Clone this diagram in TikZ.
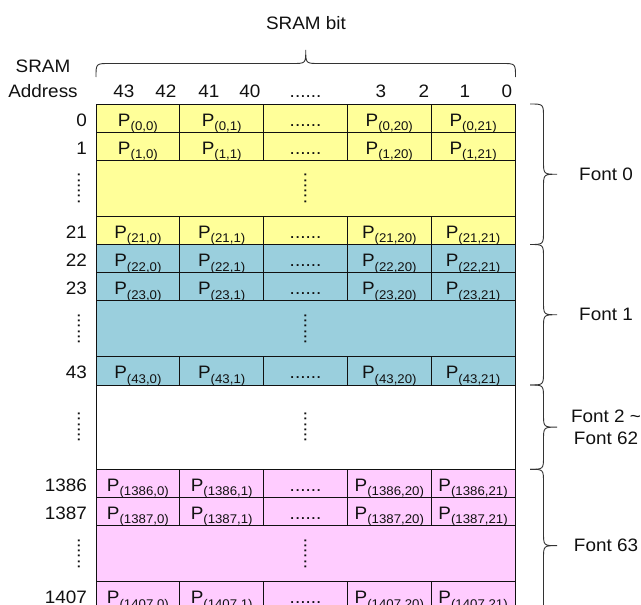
\documentclass[tikz,border=0pt]{standalone}
\usepackage{fontspec}
\setmainfont{Liberation Sans}[FakeStretch=1.05]
\usetikzlibrary{calc}
\definecolor{yel}{HTML}{FFFF99}
\definecolor{blu}{HTML}{9ACFDD}
\definecolor{pnk}{HTML}{FFCCFF}
\definecolor{ink}{HTML}{111111}
\definecolor{bracecol}{HTML}{333333}
\newcommand\Pcell[1]{P\raisebox{-4.5pt}{\fontsize{12.6}{12.6}\selectfont(#1)}}
\newcommand\memrow[3]{%
  \pgfmathsetmacro\yc{104+28.1*(#1+0.5)}%
  \pgfmathsetmacro\yb{104+28.1*#1+22}%
  \node[cellbox, fill=#2] (r#3c0) at (137.9,\yc) {\Pcell{#3,0}};
  \node[cellbox, fill=#2] (r#3c1) at (221.7,\yc) {\Pcell{#3,1}};
  \node[cellbox, fill=#2] (r#3c2) at (305.5,\yc) {......};
  \node[cellbox, fill=#2] (r#3c3) at (389.3,\yc) {\Pcell{#3,20}};
  \node[cellbox, fill=#2] (r#3c4) at (473.1,\yc) {\Pcell{#3,21}};
  \node[lbl, anchor=base east] (a#3) at (87,\yb) {#3};
}
\newcommand\dotblock[4]{%
  \pgfmathsetmacro\yc{104+28.1*(#1+#2/2)}%
  \pgfmathsetmacro\hh{28.1*#2}%
  \node[blockbox, fill=#3, minimum height=\hh] (#4) at (305.5,\yc) {};
  \node[vdotsnode] (#4m) at (305.5,\yc) {......};
  \node[vdotsnode] (#4l) at (79,\yc) {......};
}
\begin{document}
\begin{tikzpicture}[x=1pt,y=-1pt,
  every node/.style={font=\fontsize{18}{22}\selectfont, inner sep=0pt, text=ink},
  lbl/.style={},
  cellbox/.style={draw=ink, line width=0.9pt, minimum width=83.8, minimum height=28.1,
    text height=20pt, text depth=4pt},
  blockbox/.style={draw=ink, line width=0.9pt, minimum width=419},
  vdotsnode/.style={rotate=90},
  brc/.style={draw=bracecol, line width=0.9pt},
  rbrace/.style={to path={let \p1=(\tikztostart), \p2=(\tikztotarget),
      \p3=($(\tikztostart)!0.5!(\tikztotarget)$) in
    .. controls (\x1+13.5pt,\y1) .. (\x1+13.5pt,\y1-13.5pt)
    -- (\x1+13.5pt,\y3+13.5pt) .. controls (\x1+13.5pt,\y3) .. (\x1+27pt,\y3)
    .. controls (\x1+13.5pt,\y3) .. (\x1+13.5pt,\y3-13.5pt)
    -- (\x1+13.5pt,\y2+13.5pt) .. controls (\x1+13.5pt,\y2) .. (\tikztotarget)}},
  tbrace/.style={to path={let \p1=(\tikztostart), \p2=(\tikztotarget),
      \p3=($(\tikztostart)!0.5!(\tikztotarget)$) in
    .. controls (\x1,\y1+13.5pt) .. (\x1+13.5pt,\y1+13.5pt)
    -- (\x3-13.5pt,\y1+13.5pt) .. controls (\x3,\y1+13.5pt) .. (\x3,\y1+27pt)
    .. controls (\x3,\y1+13.5pt) .. (\x3+13.5pt,\y1+13.5pt)
    -- (\x2-13.5pt,\y1+13.5pt) .. controls (\x2,\y1+13.5pt) .. (\tikztotarget)}}
]
\useasboundingbox (0,0) rectangle (641,605);
\clip (0,0) rectangle (641,605);
\fill[white] (0,0) rectangle (641,605);

% headings
\node[lbl, anchor=base] (title) at (306,29) {SRAM bit};
\node[lbl, anchor=base] (sram) at (43,72) {SRAM};
\node[lbl, anchor=base] (addrh) at (43,97) {Address};
\node[lbl, anchor=base] (b43) at (124,97) {43};
\node[lbl, anchor=base] (b42) at (166,97) {42};
\node[lbl, anchor=base] (b41) at (209,97) {41};
\node[lbl, anchor=base] (b40) at (250,97) {40};
\node[lbl, anchor=base] (bdots) at (305.5,97) {......};
\node[lbl, anchor=base] (b3) at (381,97) {3};
\node[lbl, anchor=base] (b2) at (424,97) {2};
\node[lbl, anchor=base] (b1) at (465,97) {1};
\node[lbl, anchor=base] (b0) at (507,97) {0};

% memory rows
\memrow{0}{yel}{0}
\memrow{1}{yel}{1}
\dotblock{2}{2}{yel}{dA}
\memrow{4}{yel}{21}
\memrow{5}{blu}{22}
\memrow{6}{blu}{23}
\dotblock{7}{2}{blu}{dB}
\memrow{9}{blu}{43}
\dotblock{10}{3}{white}{dC}
\memrow{13}{pnk}{1386}
\memrow{14}{pnk}{1387}
\dotblock{15}{2}{pnk}{dD}
\memrow{17}{pnk}{1407}

% braces
\coordinate (tb1) at (96,77);
\coordinate (tb2) at (515.5,77);
\coordinate (f0a) at (530,104);
\coordinate (f0b) at (530,244.5);
\coordinate (f1b) at (530,385);
\coordinate (f2b) at (530,469.3);
\coordinate (f3b) at (530,622);
\draw[brc] (tb1) to[tbrace] (tb2);
\draw[brc] (f0a) to[rbrace] (f0b);
\draw[brc] (f0b) to[rbrace] (f1b);
\draw[brc] (f1b) to[rbrace] (f2b);
\draw[brc] (f2b) to[rbrace] (f3b);

% font labels
\node[lbl] (font0) at (606,174.5) {Font 0};
\node[lbl] (font1) at (606,314.5) {Font 1};
\node[lbl, align=center] (font2) at (606,427) {Font 2 \symbol{"7E}\\Font 62};
\node[lbl] (font63) at (606,545.5) {Font 63};
\end{tikzpicture}
\end{document}
